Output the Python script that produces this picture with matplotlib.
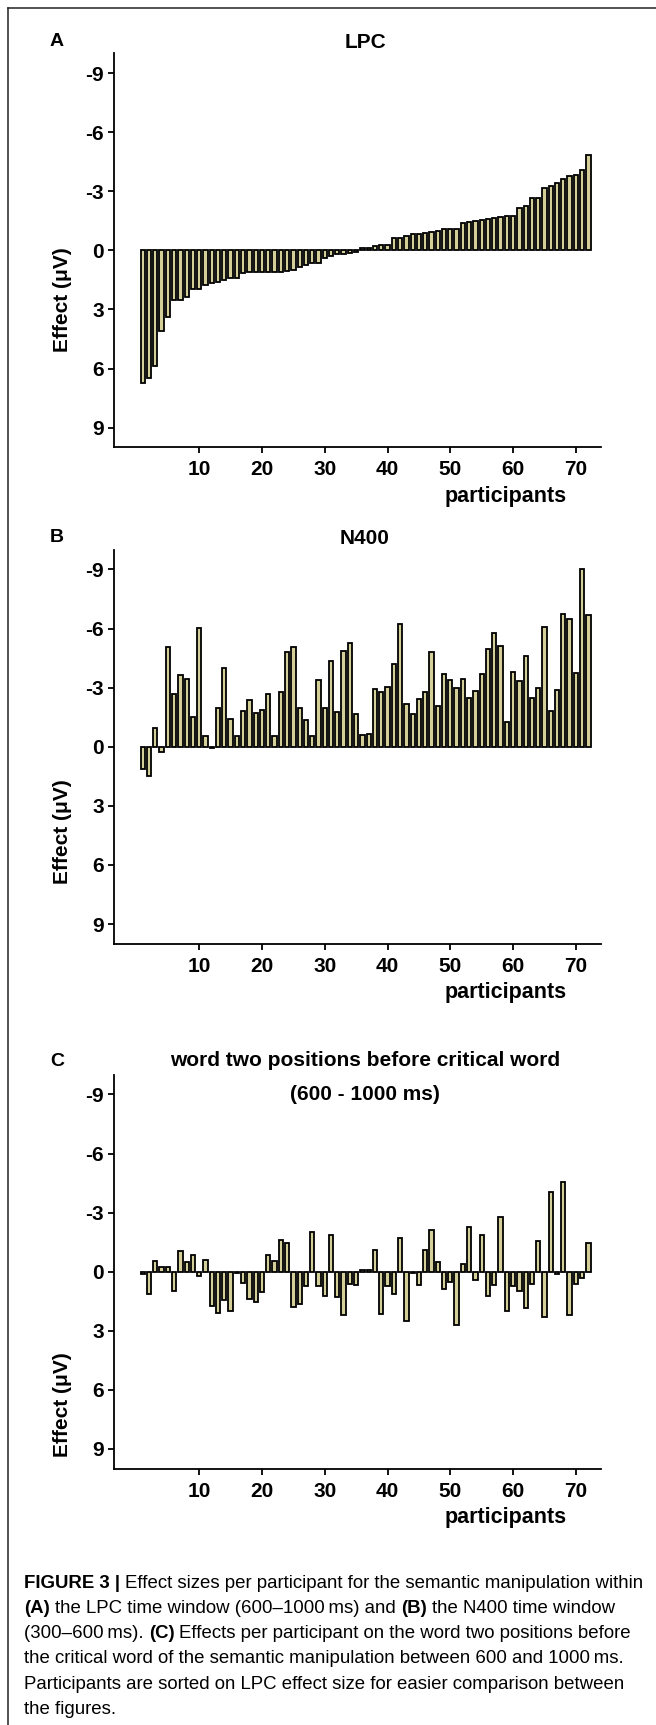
import matplotlib
matplotlib.use("Agg")
import matplotlib.pyplot as plt
from matplotlib import font_manager
from matplotlib.lines import Line2D
import numpy as np

# effect per participant (microvolts), participants sorted on LPC effect
participants = np.arange(1, 73)

lpc_effect = [6.76, 6.46, 5.86, 4.10, 3.37, 2.53, 2.53, 2.36, 1.98, 1.98,
              1.76, 1.68, 1.63, 1.50, 1.39, 1.39, 1.14, 1.08, 1.08, 1.08,
              1.08, 1.08, 1.08, 1.05, 1.00, 0.83, 0.75, 0.66, 0.66, 0.40,
              0.27, 0.20, 0.20, 0.12, 0.08, -0.10, -0.10, -0.24, -0.29, -0.29,
              -0.64, -0.64, -0.73, -0.83, -0.83, -0.90, -0.95, -0.98, -1.08, -1.10,
              -1.10, -1.39, -1.46, -1.49, -1.54, -1.59, -1.66, -1.71, -1.73, -1.75,
              -2.15, -2.27, -2.63, -2.63, -3.14, -3.27, -3.44, -3.64, -3.75, -3.80,
              -4.07, -4.85]

n400_effect = [1.14, 1.47, -0.93, 0.27, -5.08, -2.68, -3.64, -3.44, -1.51, -6.02,
               -0.56, 0.07, -1.98, -4.02, -1.39, -0.54, -1.80, -2.39, -1.73, -1.88,
               -2.66, -0.54, -2.76, -4.81, -5.05, -1.98, -1.34, -0.53, -3.37, -1.98,
               -4.36, -1.77, -4.86, -5.24, -1.66, -0.59, -0.64, -2.92, -2.78, -3.03,
               -4.20, -6.22, -2.15, -1.68, -2.42, -2.76, -4.83, -2.05, -3.69, -3.37,
               -2.98, -3.42, -2.47, -2.81, -3.71, -4.98, -5.78, -5.10, -1.27, -3.78,
               -3.34, -4.58, -2.46, -2.98, -6.08, -1.80, -2.90, -6.73, -6.47, -3.75,
               -9.00, -6.69]

prev_word_effect = [0.10, 1.12, -0.54, -0.25, -0.25, 0.97, -1.03, -0.49, -0.83, 0.24,
                    -0.58, 1.76, 2.10, 1.42, 1.97, 0.05, 0.56, 1.41, 1.54, 1.03,
                    -0.83, -0.53, -1.63, -1.47, 1.78, 1.66, 0.75, -2.00, 0.73, 1.22,
                    -1.88, 1.29, 2.22, 0.64, 0.69, -0.10, -0.10, -1.08, 2.14, 0.75,
                    1.15, -1.73, 2.51, 0.05, 0.66, -1.10, -2.12, -0.49, 0.86, 0.53,
                    2.73, -0.39, -2.27, 0.41, -1.86, 1.25, 0.66, -2.76, 2.02, 0.73,
                    0.98, 1.83, 0.64, -1.58, 2.31, -4.03, 0.10, -4.56, 2.19, 0.61,
                    0.32, -1.47]

panel_letters = ["A", "B", "C"]
panel_titles = [["LPC"], ["N400"],
                ["word two positions before critical word", "(600 - 1000 ms)"]]
y_ticks = [-9, -6, -3, 0, 3, 6, 9]
x_ticks = [10, 20, 30, 40, 50, 60, 70]

caption = [
    [("FIGURE 3 | ", True), ("Effect sizes per participant for the semantic manipulation within", False)],
    [("(A)", True), (" the LPC time window (600\u20131000\u2009ms) and ", False), ("(B)", True),
     (" the N400 time window", False)],
    [("(300\u2013600\u2009ms). ", False), ("(C)", True),
     (" Effects per participant on the word two positions before", False)],
    [("the critical word of the semantic manipulation between 600 and 1000\u2009ms.", False)],
    [("Participants are sorted on LPC effect size for easier comparison between", False)],
    [("the figures.", False)],
]

W, H = 656, 1725
names = {f.name for f in font_manager.fontManager.ttflist}
SANS = "Liberation Sans" if "Liberation Sans" in names else "DejaVu Sans"
NARROW = "Liberation Sans Narrow" if "Liberation Sans Narrow" in names else SANS

plt.rcParams["font.family"] = [SANS, "DejaVu Sans"]
plt.rcParams["axes.unicode_minus"] = False

BAR = "#d4cf98"

fig = plt.figure(figsize=(W / 100, H / 100), dpi=100)


def fx(x):
    return x / W


def fy(y):
    return 1 - y / H


# outer frame of the figure box
fig.add_artist(Line2D([fx(8), fx(8)], [fy(8), 0], transform=fig.transFigure, color="#222222", lw=1.1))
fig.add_artist(Line2D([fx(8), 1], [fy(8), fy(8)], transform=fig.transFigure, color="#222222", lw=1.1))

zeros = [250.3, 746.7, 1271.7]
unit = 19.7
left, right = 114.5, 601
title_y = [[42], [538], [1061, 1095]]
ylabel_y = [300, 832, 1405]
datasets = [lpc_effect, n400_effect, prev_word_effect]

for i, vals in enumerate(datasets):
    top = zeros[i] - 10 * unit
    bottom = zeros[i] + 10 * unit
    ax = fig.add_axes([fx(left), fy(bottom), (right - left) / W, (bottom - top) / H])
    ax.bar(participants, vals, width=0.68, color=BAR, edgecolor="black", linewidth=1.3)
    ax.set_xlim(-3.5, 74)
    ax.set_ylim(10, -10)
    ax.set_yticks(y_ticks)
    ax.set_xticks(x_ticks)
    for s in ["top", "right"]:
        ax.spines[s].set_visible(False)
    for s in ["left", "bottom"]:
        ax.spines[s].set_linewidth(1.3)
    ax.tick_params(direction="out", length=4.5, width=1.3, labelsize=15)
    ax.tick_params(axis="y", pad=3)
    ax.tick_params(axis="x", pad=5)
    for lab in ax.get_xticklabels() + ax.get_yticklabels():
        lab.set_fontweight("bold")
    ax.annotate("participants", xy=(58.8, 0), xycoords=("data", "axes fraction"),
                xytext=(0, -49), textcoords="offset pixels", ha="center", va="center",
                fontsize=15.5, fontweight="bold")

    fig.text(fx(57), fy(title_y[i][0]), panel_letters[i], ha="center", va="center",
             fontsize=14, fontweight="bold")
    for line, yy in zip(panel_titles[i], title_y[i]):
        fig.text(fx(365), fy(yy), line, ha="center", va="center", fontsize=15, fontweight="bold")
    fig.text(fx(63), fy(ylabel_y[i]), "Effect (\u03bcV)", rotation=90, ha="center", va="center",
             fontsize=15, fontweight="bold")

# caption with bold fragments
renderer = fig.canvas.get_renderer()


def width_of(s, bold, size):
    t = fig.text(0, 0, s, fontsize=size, fontweight="bold" if bold else "normal",
                 family=[NARROW, "DejaVu Sans"])
    w = t.get_window_extent(renderer).width
    t.remove()
    return w


base = 13
line1 = sum(width_of(s.strip(), b, base) for s, b in caption[0]) + width_of("x x", False, base) - width_of("xx", False, base)
cap_size = min(14.5, max(10, base * 619 / line1))
space = width_of("x x", False, cap_size) - width_of("xx", False, cap_size)

baselines = [1588, 1613, 1638, 1663, 1689, 1714]
for segs, yb in zip(caption, baselines):
    x = 24
    for s, b in segs:
        lead = len(s) - len(s.lstrip())
        trail = len(s) - len(s.rstrip())
        x += lead * space
        body = s.strip()
        fig.text(fx(x), fy(yb), body, ha="left", va="baseline", fontsize=cap_size,
                 fontweight="bold" if b else "normal", family=[NARROW, "DejaVu Sans"])
        x += width_of(body, b, cap_size) + trail * space

fig.savefig("out.png", dpi=100)
